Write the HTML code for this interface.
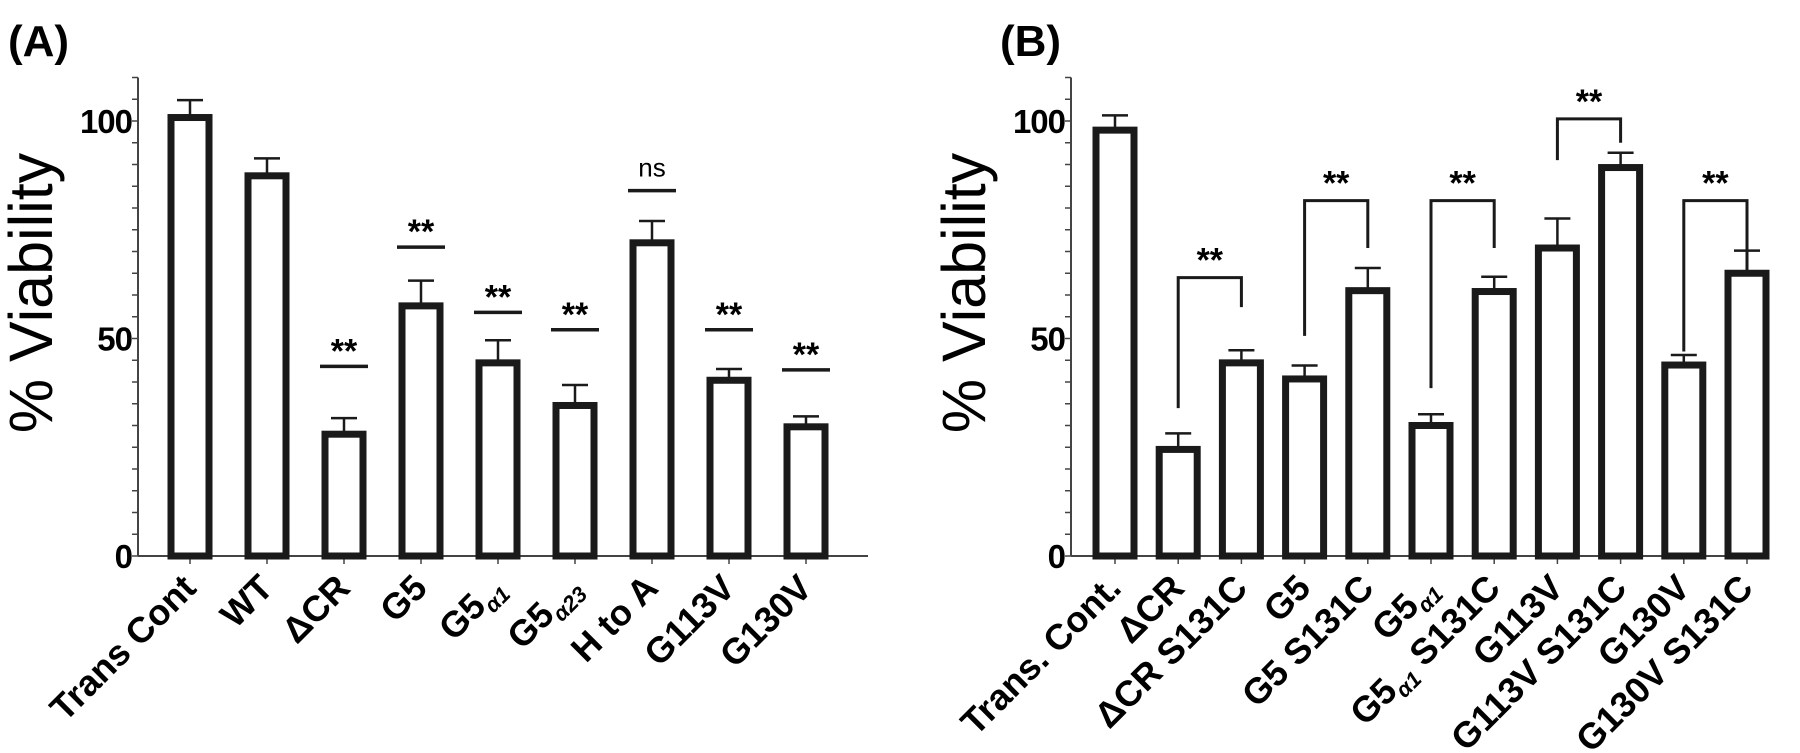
<!DOCTYPE html>
<html><head><meta charset="utf-8">
<style>
html,body{margin:0;padding:0;background:#fff;}
svg{display:block;font-family:"Liberation Sans",Arial,sans-serif;}
</style></head>
<body>
<svg id="fig" width="1800" height="753" viewBox="0 0 1800 753" xmlns="http://www.w3.org/2000/svg">
<text x="8" y="56" font-size="44" font-weight="bold">(A)</text>
<text x="1000" y="56" font-size="44" font-weight="bold">(B)</text>
<text transform="translate(52,293) rotate(-90)" text-anchor="middle" font-size="61">% Viability</text>
<text transform="translate(985,293) rotate(-90)" text-anchor="middle" font-size="61">% Viability</text>
<g id="pa"></g>
<g id="pb"></g>
</svg>
<script>
// Panel A data
const catsA = ["Trans Cont","WT","ΔCR","G5","G5|α1","G5|α23","H to A","G113V","G130V"];
const valsA = [100.8,87.4,28,57.5,44.4,34.6,72,40.4,29.7];
const errsA = [4,4,3.7,5.8,5.2,4.7,5,2.6,2.4];
const sigLevelA = [null,null,43.6,71,56,52,84,52,42.8];
const sigTextA = ["","","**","**","**","**","ns","**","**"];
// Panel B data
const catsBfull = ["Trans. Cont.","ΔCR","ΔCR S131C","G5","G5 S131C","G5|α1","G5|α1| S131C","G113V","G113V S131C","G130V","G130V S131C"];
const valsB = [97.9,24.5,44.4,40.7,61,30,60.8,70.8,89.3,43.9,65];
const errsB = [3.4,3.7,2.9,3.1,5.2,2.6,3.4,6.8,3.4,2.3,5.2];
const bracketFrom = [1,3,5,7,9];
const bracketTo = [2,4,6,8,10];
const bracketTop = [64,81.7,81.7,100.5,81.7];
const bracketLeftEnd = [34,50.6,38.6,91,47];
const bracketRightEnd = [57.2,70.8,70.8,95,65.5];
const yTicks = [0,50,100];

const NS="http://www.w3.org/2000/svg";
function mk(parent,tag,attrs){const e=document.createElementNS(NS,tag);for(const k in attrs)e.setAttribute(k,attrs[k]);parent.appendChild(e);return e;}
function label(g,txt,x,y,name){
  const t=mk(g,'text',{transform:`translate(${x},${y}) rotate(-45)`,'text-anchor':'end','font-size':'36','font-weight':'bold'});
  
  
  const parts=txt.split('|');
  parts.forEach((p,i)=>{const s=mk(t,'tspan',{});s.textContent=p;
    if(i===1){s.setAttribute('font-size','22');s.setAttribute('font-style','italic');s.setAttribute('dy','8');}
    if(i===2){s.setAttribute('dy','-8');}
  });
}
function panel(gid,ax,x0,dx,xEnd,cats,vals,errs,prefix){
  const g=document.getElementById(gid);
  const y0=556, k=4.35;
  const Y=v=>y0-v*k;
  const X=i=>x0+i*dx;
  const ya=mk(g,'line',{x1:ax,y1:Y(110),x2:ax,y2:y0,stroke:'#444','stroke-width':2});
  
  
  const xa=mk(g,'line',{x1:ax,y1:y0,x2:xEnd,y2:y0,stroke:'#444','stroke-width':2});
  
  
  for(let v=0;v<=110;v+=5){mk(g,'line',{x1:ax-6,y1:Y(v),x2:ax,y2:Y(v),stroke:'#444','stroke-width':1.5});}
  yTicks.forEach(v=>{const t=mk(g,'text',{x:ax-6,y:Y(v)+12,'text-anchor':'end','font-size':'33','font-weight':'bold','letter-spacing':'-1'});t.textContent=v;
    
    });
  cats.forEach((c,i)=>{
    const cx=X(i);
    mk(g,'line',{x1:cx,y1:y0,x2:cx,y2:y0+8,stroke:'#444','stroke-width':1.5});
    label(g,c,cx+8,y0+34,prefix+'-x-label');
    const eb=mk(g,'path',{d:`M${cx},${Y(vals[i])} V${Y(vals[i]+errs[i])} M${cx-13},${Y(vals[i]+errs[i])} H${cx+13}`,stroke:'#1a1a1a','stroke-width':2.5,fill:'none'});
    
    
    const b=mk(g,'rect',{x:cx-19,y:Y(vals[i]),width:38,height:y0-Y(vals[i]),fill:'#fff',stroke:'#1a1a1a','stroke-width':7});
    
    
  });
  return {X,Y,g};
}
const A=panel('pa',138,190,77,868,catsA,valsA,errsA,'a');
sigLevelA.forEach((lv,i)=>{
  if(lv===null)return;
  const cx=A.X(i);
  const l=mk(A.g,'line',{x1:cx-24,y1:A.Y(lv),x2:cx+24,y2:A.Y(lv),stroke:'#1a1a1a','stroke-width':3.5});
  
  
  const ns=sigTextA[i]==='ns';
  const t=mk(A.g,'text',{x:cx,y:A.Y(lv)-(ns?14:4),'text-anchor':'middle','font-size':ns?'26':'34','font-weight':ns?'normal':'bold'});
  t.textContent=sigTextA[i];
  
  
});
const B=panel('pb',1071,1115,63.2,1760,catsBfull,valsB,errsB,'b');
bracketFrom.forEach((f,j)=>{
  const x1=B.X(f), x2=B.X(bracketTo[j]);
  const p=mk(B.g,'path',{d:`M${x1},${B.Y(bracketLeftEnd[j])} V${B.Y(bracketTop[j])} H${x2} V${B.Y(bracketRightEnd[j])}`,stroke:'#1a1a1a','stroke-width':3,fill:'none'});
  
  
  const t=mk(B.g,'text',{x:(x1+x2)/2,y:B.Y(bracketTop[j])-6,'text-anchor':'middle','font-size':'34','font-weight':'bold'});
  t.textContent='**';
  
  
});
</script>
</body></html>
